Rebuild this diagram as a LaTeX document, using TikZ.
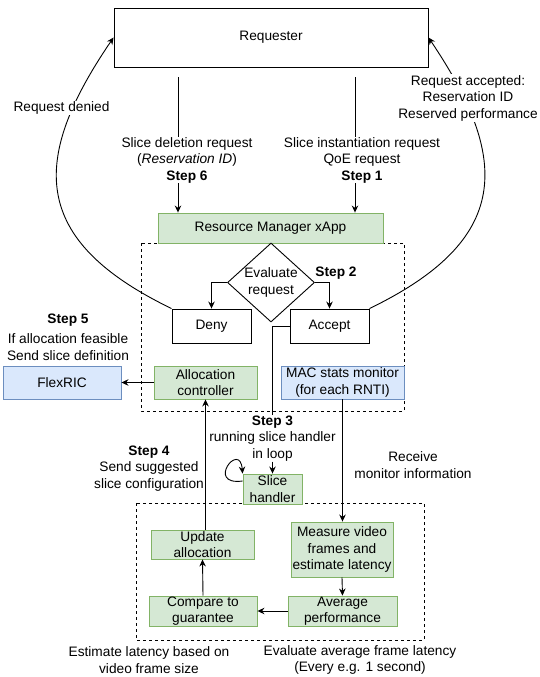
\documentclass[tikz,border=0pt]{standalone}
\usepackage{fontspec}
\setmainfont{Liberation Sans}
\usetikzlibrary{shapes.geometric,arrows.meta}
\definecolor{greenfill}{HTML}{D5E8D4}
\definecolor{greenline}{HTML}{82B366}
\definecolor{bluefill}{HTML}{DAE8FC}
\definecolor{blueline}{HTML}{6C8EBF}

\begin{document}
\begin{tikzpicture}[x=1pt,y=-1pt,line width=0.9pt,>={Stealth[length=7pt,width=6.5pt]},
  every node/.style={font=\fontsize{13.7}{16.5}\selectfont,align=center,inner sep=0pt},
  plainbox/.style={draw,fill=white},
  greenbox/.style={draw=greenline,fill=greenfill},
  bluebox/.style={draw=blueline,fill=bluefill},
  frame/.style={draw,dash pattern=on 3pt off 3pt,line width=0.8pt}] % Slice workflow
   \useasboundingbox (0,0) rectangle (539,677);
   \draw[frame] (141,243) rectangle (404,411);
   \draw[frame] (136,503) rectangle (424,640);
   % boxes
   \node[plainbox,minimum width=314pt,minimum height=59pt] (req) at (271,37.5) {Requester};
   \node[greenbox,minimum width=225pt,minimum height=30pt] (rm) at (270.5,228) {Resource Manager xApp};
   \node[draw,fill=white,diamond,minimum width=87pt,minimum height=79pt,
         label={center:Evaluate\\request}] (eval) at (271,282.5) {};
   \node[plainbox,minimum width=79pt,minimum height=34pt] (deny) at (211.5,326) {Deny};
   \node[plainbox,minimum width=79pt,minimum height=34pt] (accept) at (329.5,326) {Accept};
   \node[bluebox,minimum width=118pt,minimum height=33pt] (flex) at (62,382.5) {FlexRIC};
   \node[greenbox,minimum width=103pt,minimum height=33pt] (alloc) at (205.5,382.5) {Allocation\\controller};
   \node[bluebox,minimum width=123pt,minimum height=33pt] (mac) at (342.5,382.5) {MAC stats monitor\\(for each RNTI)};
   \node[greenbox,minimum width=59pt,minimum height=30pt] (slice) at (272.5,489) {Slice\\handler};
   \node[greenbox,minimum width=102pt,minimum height=55pt] (measure) at (342,549.5) {Measure video\\frames and\\estimate latency};
   \node[greenbox,minimum width=109pt,minimum height=30pt] (avg) at (342.5,611) {Average\\performance};
   \node[greenbox,minimum width=108pt,minimum height=30pt] (cmp) at (203,611) {Compare to\\guarantee};
   \node[greenbox,minimum width=103pt,minimum height=29pt] (upd) at (202.5,544.5) {Update\\allocation};
   % step texts
   \node (lab6) at (187,160) {Slice deletion request\\(\textit{Reservation ID})\\\textbf{Step 6}};
   \node (lab1) at (362,160) {Slice instantiation request\\QoE request\\\textbf{Step 1}};
   \node (step2) at (336,273) {\textbf{Step 2}};
   \node (step3) at (272.5,438.5) {\textbf{Step 3}\\running slice handler\\in loop};
   \node (step4) at (149,468.5) {\textbf{Step 4}\\Send suggested\\slice configuration};
   \node (step5) at (68,337) {\textbf{Step 5}\\[4pt]If allocation feasible\\Send slice definition};
   \node (recv) at (413,465) {Receive\\monitor information};
   \node (est) at (149,660) {Estimate latency based on\\video frame size};
   \node (evalavg) at (360,660) {Evaluate average frame latency\\(Every e.g. 1 second)};
   % connectors
   \coordinate (top6) at (178,77);
   \coordinate (top1) at (355,77);
   \draw (top6) -- (top6 |- lab6.north);
   \draw[->] (top6 |- lab6.south) -- (top6 |- rm.north);
   \draw (top1) -- (top1 |- lab1.north);
   \draw[->] (top1 |- lab1.south) -- (top1 |- rm.north);
   \draw[->] (deny.north west) .. controls (30,240) and (30,160) .. (req.west);
   \draw[->] (accept.north east) .. controls (511,240) and (511,160) .. (req.east);
   \node[fill=white,inner sep=1pt] (denied) at (61.5,108) {Request denied};
   \node[fill=white,inner sep=1pt] (accepted) at (468,98) {Request accepted:\\Reservation ID\\Reserved performance};
   \draw[->] (eval.west) -| (deny.north);
   \draw[->] (eval.east) -| (accept.north);
   \draw (accept.west) -| (step3.north);
   \draw[->] (step3.south) -- (slice.north);
   \draw[->] ([yshift=8pt]slice.west) .. controls (205,486) and (240,440) .. (slice.north west);
   \draw[->] (alloc.west) -- (flex.east);
   \draw[->] (upd.north -| alloc.south) -- (alloc.south);
   \draw[->] (mac.south) -- (mac.south |- measure.north);
   \draw[->] (measure.south) -- (avg.north);
   \draw[->] (avg.west) -- (cmp.east);
   \draw[->] (cmp.north) -- (upd.south);
\end{tikzpicture}
\end{document}
